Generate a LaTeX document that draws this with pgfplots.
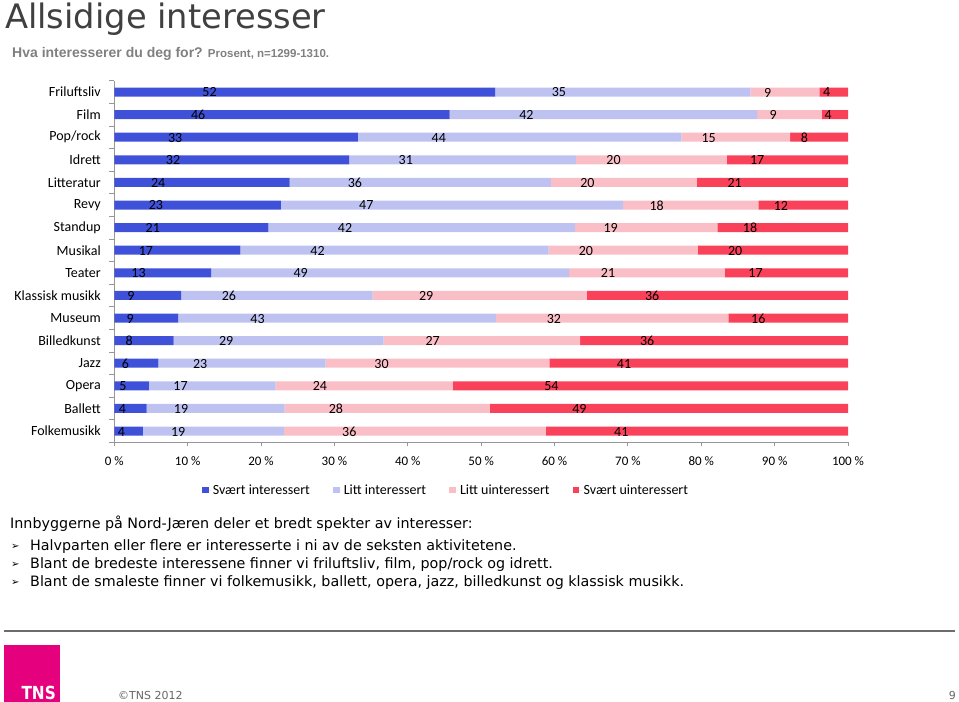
\documentclass[border=0pt]{standalone}
\usepackage{pgfplots}
\pgfplotsset{compat=1.18}
\usepackage{pgfplotstable}
\usepackage{fontspec}
\setmainfont{Carlito}
\newfontfamily\dejavu{DejaVu Sans}
\newfontfamily\dejavub{DejaVu Sans Bold}[FakeStretch=0.85]
\newfontfamily\libsans{Liberation Sans}
\definecolor{c1}{RGB}{63,81,216}
\definecolor{c2}{RGB}{189,194,240}
\definecolor{c3}{RGB}{250,190,199}
\definecolor{c4}{RGB}{250,65,90}
\definecolor{titlegray}{RGB}{64,64,64}
\definecolor{subgray}{RGB}{128,128,128}
\definecolor{axgray}{RGB}{150,150,150}
\definecolor{tns}{RGB}{229,0,126}

% x = segment length, l = printed label
\pgfplotstableread{
y  a    b    c    d    la lb lc ld
15 51.9 34.8 9.4  3.9  52 35 9  4
14 45.7 41.9 8.8  3.6  46 42 9  4
13 33.2 44.1 14.8 7.9  33 44 15 8
12 32.0 30.9 20.6 16.5 32 31 20 17
11 23.9 35.6 19.9 20.6 24 36 20 21
10 22.7 46.6 18.5 12.2 23 47 18 12
9  21.0 41.8 19.4 17.8 21 42 19 18
8  17.2 42.0 20.3 20.5 17 42 20 20
7  13.2 48.8 21.2 16.8 13 49 21 17
6  9.1  26.1 29.2 35.6 9  26 29 36
5  8.7  43.3 31.7 16.3 9  43 32 16
4  8.1  28.6 26.8 36.5 8  29 27 36
3  6.0  22.8 30.5 40.7 6  23 30 41
2  4.7  17.3 24.1 53.9 5  17 24 54
1  4.4  18.8 28.0 48.8 4  19 28 49
0  3.9  19.2 35.7 41.2 4  19 36 41
}\data

\begin{document}
\begin{tikzpicture}
\useasboundingbox (0,0) rectangle (959bp,-702bp);
% title and subtitle
\node[anchor=base west, inner sep=0, text=titlegray, font=\dejavu\fontsize{33.7bp}{36bp}\selectfont] at (5bp,-28bp) {Allsidige interesser};
\node[anchor=base west, inner sep=0, text=subgray, font=\libsans\bfseries\fontsize{14bp}{16bp}\selectfont] at (12bp,-57bp) {Hva interesserer du deg for? {\fontsize{11.5bp}{13bp}\selectfont Prosent, n=1299-1310.}};

\begin{axis}[
  at={(114.3bp,-442.3bp)}, anchor=south west,
  scale only axis, width=733.7bp, height=361.6bp,
  xbar stacked, bar width=9bp,
  xmin=0, xmax=100, ymin=-0.5, ymax=15.5,
  axis x line*=bottom, axis y line*=left,
  axis line style={draw=axgray, line width=0.8bp},
  /pgf/number format/assume math mode=true,
  tick align=outside,
  major tick length=4bp, minor tick length=5bp,
  xtick={0,10,...,100},
  xticklabel={\pgfmathprintnumber{\tick} \%},
  xticklabel style={font=\fontsize{13bp}{15bp}\selectfont, yshift=-6.5bp},
  major x tick style={draw=axgray, line width=0.8bp},
  ytick={0,...,15},
  yticklabels={Folkemusikk,Ballett,Opera,Jazz,Billedkunst,Museum,Klassisk musikk,Teater,Musikal,Standup,Revy,Litteratur,Idrett,Pop/rock,Film,Friluftsliv},
  yticklabel style={font=\fontsize{14bp}{16bp}\selectfont, xshift=-6bp},
  major y tick style={draw=none},
  minor ytick={-0.5,0.5,...,15.5},
  minor y tick style={draw=axgray, line width=0.8bp},
  point meta=explicit,
  nodes near coords,
  every node near coord/.append style={anchor=center, text=black, font=\fontsize{14bp}{16bp}\selectfont, shift={(axis direction cs:-\rawx/4,0)}, yshift=-0.5bp},
  legend style={at={(0.452,-0.132)}, anchor=center, legend columns=4, draw=none, fill=none,
    font=\fontsize{14bp}{16bp}\selectfont,
    /tikz/every even column/.append style={column sep=21bp}},
  legend image code/.code={\fill[#1] (0bp,-3.4bp) rectangle (6.8bp,3.4bp); \path (0bp,0bp) -- (9bp,0bp);},
]
\addplot[fill=c1, draw=none, visualization depends on={\thisrow{a}\as\rawx}] table[x=a, y=y, meta=la]{\data};
\addplot[fill=c2, draw=none, visualization depends on={\thisrow{b}\as\rawx}] table[x=b, y=y, meta=lb]{\data};
\addplot[fill=c3, draw=none, visualization depends on={\thisrow{c}\as\rawx}] table[x=c, y=y, meta=lc]{\data};
\addplot[fill=c4, draw=none, visualization depends on={\thisrow{d}\as\rawx}] table[x=d, y=y, meta=ld]{\data};
\legend{Svært interessert, Litt interessert, Litt uinteressert, Svært uinteressert}
\end{axis}

% body text
\begin{scope}[every node/.style={anchor=base west, inner sep=0, font=\dejavu\fontsize{14.3bp}{17bp}\selectfont}]
\node at (10bp,-528bp) {Innbyggerne på Nord-Jæren deler et bredt spekter av interesser:};
\node[font=\dejavu\fontsize{10bp}{11bp}\selectfont] at (11bp,-549bp) {➢};
\node at (30bp,-550bp) {Halvparten eller flere er interesserte i ni av de seksten aktivitetene.};
\node[font=\dejavu\fontsize{10bp}{11bp}\selectfont] at (11bp,-567bp) {➢};
\node at (30bp,-568bp) {Blant de bredeste interessene finner vi friluftsliv, film, pop/rock og idrett.};
\node[font=\dejavu\fontsize{10bp}{11bp}\selectfont] at (11bp,-585bp) {➢};
\node at (30bp,-586bp) {Blant de smaleste finner vi folkemusikk, ballett, opera, jazz, billedkunst og klassisk musikk.};
\end{scope}

% footer
\draw[draw=gray!85!black, line width=2bp] (4bp,-631bp) -- (955bp,-631bp);
\fill[tns] (4bp,-645bp) rectangle (60bp,-702bp);
\node[anchor=base east, inner sep=0, text=white, font=\dejavub\fontsize{18bp}{20bp}\selectfont] at (56bp,-699bp) {TNS};
\node[anchor=base west, inner sep=0, text=gray!80!black, font=\dejavu\fontsize{11bp}{13bp}\selectfont] at (118bp,-699bp) {©TNS 2012};
\node[anchor=base east, inner sep=0, text=gray!80!black, font=\dejavu\fontsize{11bp}{13bp}\selectfont] at (956bp,-699bp) {9};
\end{tikzpicture}
\end{document}
